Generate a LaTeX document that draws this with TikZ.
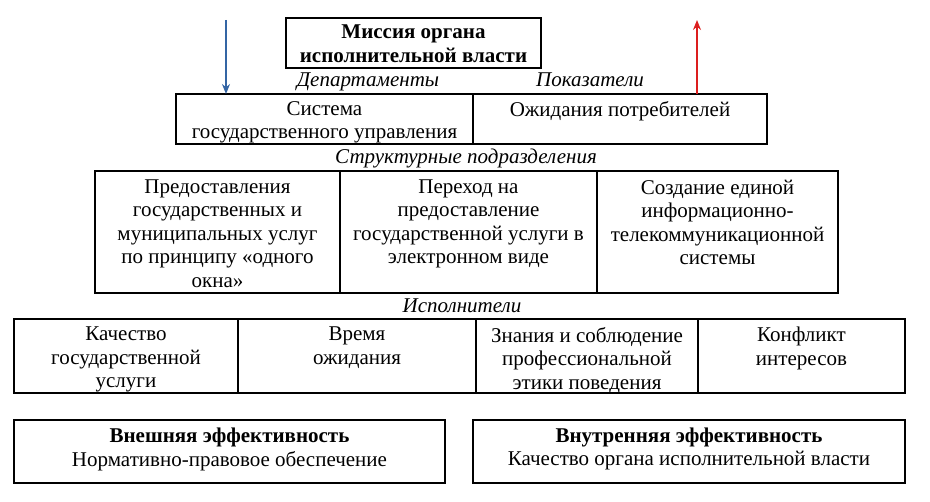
\documentclass[tikz,border=0pt]{standalone}
\usepackage{fontspec}
\setmainfont{Liberation Serif}
\usetikzlibrary{arrows.meta,positioning,calc}

\begin{document}
\begin{tikzpicture}[x=1pt,y=-1pt,
    cell/.style={draw, line width=1.6pt, anchor=north west, inner sep=0pt, outer sep=0pt},
    txt/.style={anchor=north, align=center, inner sep=0pt,
        font=\fontsize{21}{23.5}\selectfont},
    head/.style={txt, font=\fontsize{21}{23.5}\selectfont\bfseries},
    capt/.style={anchor=base, inner sep=0pt, font=\fontsize{21}{23.5}\selectfont\itshape}]
    \useasboundingbox (0,0) rectangle (930,502);

    % mission
    \node [cell, minimum width=255pt, minimum height=50pt] (mis) at (286,18) {};
    \node [head] (mis t) at (mis.north |- 0,25) {Миссия органа\\исполнительной власти};

    \node [capt] (dep) at (368,87) {Департаменты};
    \node [capt] (pok) at (590,87) {Показатели};

    % second row
    \node [cell, minimum width=297pt, minimum height=50pt] (sys) at (176,94) {};
    \node [cell, minimum width=294pt, minimum height=50pt] (exp) at (sys.north east) {};
    \node [txt] (sys t) at (sys.north |- 0,101) {Система\\государственного управления};
    \node [txt] (exp t) at (exp.north |- 0,101) {Ожидания потребителей};

    \node [capt] (str) at (466,164) {Структурные подразделения};

    % third row
    \node [cell, minimum width=245pt, minimum height=122pt] (gos) at (95,171) {};
    \node [cell, minimum width=257pt, minimum height=122pt] (el) at (gos.north east) {};
    \node [cell, minimum width=241pt, minimum height=122pt] (inf) at (el.north east) {};
    \node [txt] (gos t) at (gos.north |- 0,179.5) {Предоставления\\государственных и\\муниципальных услуг\\по принципу «одного\\окна»};
    \node [txt] (el t) at (el.north |- 0,179.5) {Переход на\\предоставление\\государственной услуги в\\электронном виде};
    \node [txt] (inf t) at (inf.north |- 0,179.5) {Создание единой\\информационно-\\телекоммуникационной\\системы};

    \node [capt] (isp) at (462,313) {Исполнители};

    % fourth row
    \node [cell, minimum width=224pt, minimum height=74pt] (kach) at (14,319) {};
    \node [cell, minimum width=238pt, minimum height=74pt] (vr) at (kach.north east) {};
    \node [cell, minimum width=222pt, minimum height=74pt] (eth) at (vr.north east) {};
    \node [cell, minimum width=207pt, minimum height=74pt] (konf) at (eth.north east) {};
    \node [txt] (kach t) at (kach.north |- 0,327) {Качество\\государственной\\услуги};
    \node [txt] (vr t) at (vr.north |- 0,327) {Время\\ожидания};
    \node [txt] (eth t) at (eth.north |- 0,327) {Знания и соблюдение\\профессиональной\\этики поведения};
    \node [txt] (konf t) at (konf.north |- 0,327) {Конфликт\\интересов};

    % efficiency
    \node [cell, minimum width=431pt, minimum height=63pt] (ext) at (14,420) {};
    \node [cell, minimum width=432pt, minimum height=63pt] (int) at (473,420) {};
    \node [head] (ext h) at (ext.north |- 0,427.5) {Внешняя эффективность};
    \node [txt] (ext t) at (ext.north |- 0,451) {Нормативно-правовое обеспечение};
    \node [head] (int h) at (int.north |- 0,427.5) {Внутренняя эффективность};
    \node [txt] (int t) at (int.north |- 0,451) {Качество органа исполнительной власти};

    \coordinate (intop) at (226,20);
    \coordinate (outtop) at (697,20);
    \draw [-{Stealth[length=10pt,width=8pt]}, line width=1.6pt, color={rgb,255:red,52;green,101;blue,164}] (intop) -- (intop |- sys.north);
    \draw [-{Stealth[length=10pt,width=8pt]}, line width=1.6pt, color={rgb,255:red,220;green,30;blue,30}] (outtop |- exp.north) -- (outtop);
\end{tikzpicture}
\end{document}
